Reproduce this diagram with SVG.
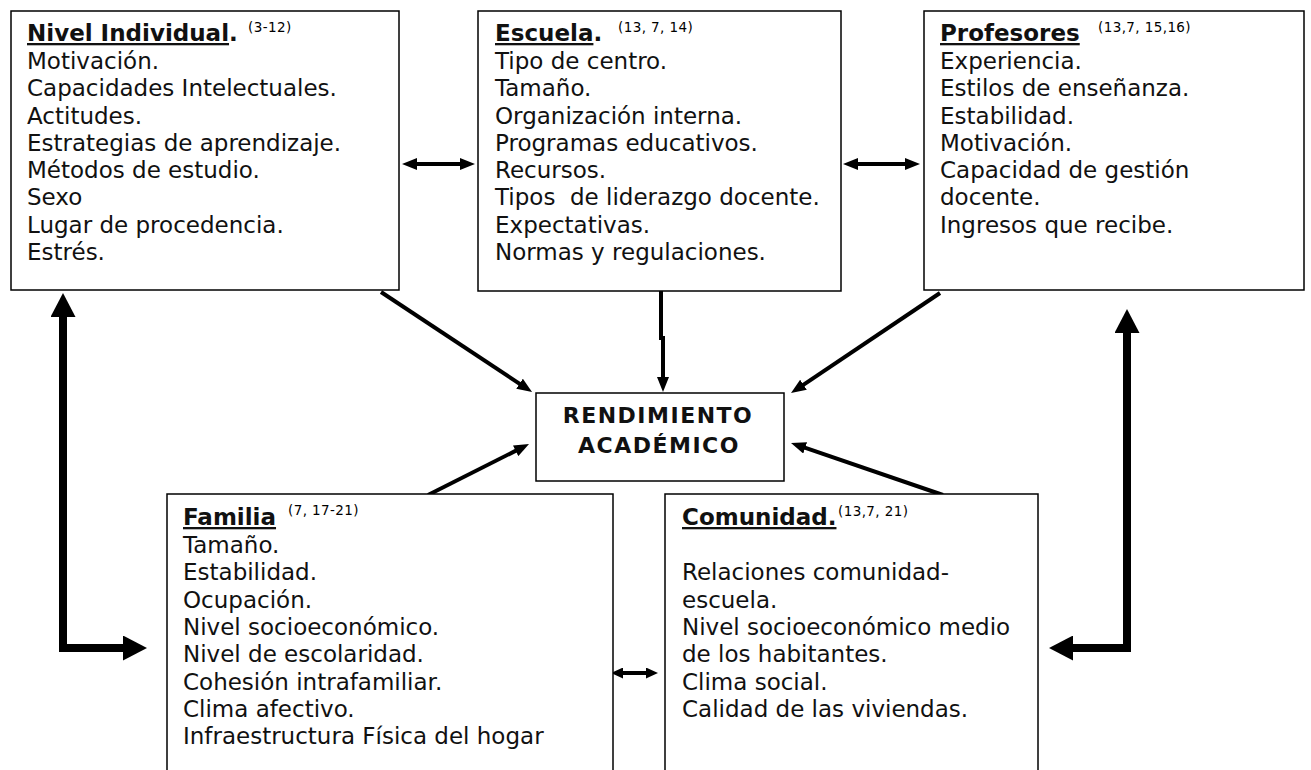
<svg xmlns="http://www.w3.org/2000/svg" width="1311" height="770" viewBox="0 0 1311 770">
<style>
.box{fill:#fff;stroke:#000;stroke-width:1.5}
.t{font-family:"DejaVu Sans","Verdana",sans-serif;font-size:23px;fill:#111}
.h{font-family:"DejaVu Sans","Verdana",sans-serif;font-size:23px;font-weight:bold;fill:#111}
.u{text-decoration:underline}
.s{font-family:"DejaVu Sans","Verdana",sans-serif;font-size:13.5px;letter-spacing:0.4px;fill:#000}
.c{font-family:"DejaVu Sans","Verdana",sans-serif;font-size:22px;font-weight:bold;letter-spacing:1.5px;fill:#111;text-anchor:middle}
.ln{fill:none;stroke:#000;stroke-width:4}
.lnb{fill:none;stroke:#000;stroke-width:8;stroke-linejoin:miter}
</style>
<defs>
<marker id="ah" viewBox="0 0 15 12" refX="2" refY="6" markerWidth="15" markerHeight="12" markerUnits="userSpaceOnUse" orient="auto-start-reverse"><path d="M0,0 L15,6 L0,12 z" fill="#000"/></marker>
<marker id="as" viewBox="0 0 12 11" refX="2" refY="5.5" markerWidth="12" markerHeight="11" markerUnits="userSpaceOnUse" orient="auto-start-reverse"><path d="M0,0 L12,5.5 L0,11 z" fill="#000"/></marker>
<marker id="ab" viewBox="0 0 24 25" refX="1" refY="12.5" markerWidth="24" markerHeight="25" markerUnits="userSpaceOnUse" orient="auto-start-reverse"><path d="M0,0 L24,12.5 L0,25 z" fill="#000"/></marker>
</defs>

<g id="connectors">
<line class="ln" x1="415" y1="164" x2="462" y2="164" marker-start="url(#ah)" marker-end="url(#ah)"/>
<line class="ln" x1="856" y1="164" x2="907" y2="164" marker-start="url(#ah)" marker-end="url(#ah)"/>
<line class="ln" x1="381" y1="292" x2="521.2" y2="384.8" marker-end="url(#ah)"/>
<path class="ln" d="M661,291 V338 H663 V379" marker-end="url(#ah)"/>
<line class="ln" x1="940" y1="293" x2="801.8" y2="385.8" marker-end="url(#ah)"/>
<line class="ln" x1="428" y1="495" x2="517.4" y2="449.9" marker-end="url(#ah)"/>
<line class="ln" x1="943" y1="495" x2="803.3" y2="447.2" marker-end="url(#ah)"/>
<line class="ln" x1="621" y1="673" x2="648" y2="673" marker-start="url(#as)" marker-end="url(#as)"/>
<path class="lnb" d="M63,316 V648 H124" marker-start="url(#ab)" marker-end="url(#ab)"/>
<path class="lnb" d="M1127,332 V648 H1072" marker-start="url(#ab)" marker-end="url(#ab)"/>
</g>

<g id="nivel-individual">
<rect class="box" x="11" y="11" width="388" height="279"/>
<text class="h" x="27" y="41"><tspan class="u">Nivel Individual</tspan>.</text>
<text class="s" x="248" y="32">(3-12)</text>
<text class="t" x="27" y="69">Motivación.</text>
<text class="t" x="27" y="96.25">Capacidades Intelectuales.</text>
<text class="t" x="27" y="123.5">Actitudes.</text>
<text class="t" x="27" y="150.75">Estrategias de aprendizaje.</text>
<text class="t" x="27" y="178">Métodos de estudio.</text>
<text class="t" x="27" y="205.25">Sexo</text>
<text class="t" x="27" y="232.5">Lugar de procedencia.</text>
<text class="t" x="27" y="259.75">Estrés.</text>
</g>

<g id="escuela">
<rect class="box" x="478" y="11" width="363" height="280"/>
<text class="h" x="495" y="41"><tspan class="u">Escuela</tspan>.</text>
<text class="s" x="618" y="32">(13, 7, 14)</text>
<text class="t" x="495" y="69">Tipo de centro.</text>
<text class="t" x="495" y="96.25">Tamaño.</text>
<text class="t" x="495" y="123.5">Organización interna.</text>
<text class="t" x="495" y="150.75">Programas educativos.</text>
<text class="t" x="495" y="178">Recursos.</text>
<text class="t" x="495" y="205.25" xml:space="preserve">Tipos  de liderazgo docente.</text>
<text class="t" x="495" y="232.5">Expectativas.</text>
<text class="t" x="495" y="259.75">Normas y regulaciones.</text>
</g>

<g id="profesores">
<rect class="box" x="924" y="11" width="380" height="279"/>
<text class="h" x="940" y="41"><tspan class="u">Profesores</tspan></text>
<text class="s" x="1098" y="32">(13,7, 15,16)</text>
<text class="t" x="940" y="69">Experiencia.</text>
<text class="t" x="940" y="96.25">Estilos de enseñanza.</text>
<text class="t" x="940" y="123.5">Estabilidad.</text>
<text class="t" x="940" y="150.75">Motivación.</text>
<text class="t" x="940" y="178">Capacidad de gestión</text>
<text class="t" x="940" y="205.25">docente.</text>
<text class="t" x="940" y="232.5">Ingresos que recibe.</text>
</g>

<g id="rendimiento">
<rect class="box" x="536" y="393" width="248" height="88"/>
<text class="c" x="658" y="423">RENDIMIENTO</text>
<text class="c" x="659" y="453">ACADÉMICO</text>
</g>

<g id="familia">
<rect class="box" x="167" y="494" width="446" height="300"/>
<text class="h" x="183" y="525"><tspan class="u">Familia</tspan></text>
<text class="s" x="288" y="515">(7, 17-21)</text>
<text class="t" x="183" y="553">Tamaño.</text>
<text class="t" x="183" y="580.3">Estabilidad.</text>
<text class="t" x="183" y="607.6">Ocupación.</text>
<text class="t" x="183" y="634.9">Nivel socioeconómico.</text>
<text class="t" x="183" y="662.2">Nivel de escolaridad.</text>
<text class="t" x="183" y="689.5">Cohesión intrafamiliar.</text>
<text class="t" x="183" y="716.8">Clima afectivo.</text>
<text class="t" x="183" y="744.1">Infraestructura Física del hogar</text>
</g>

<g id="comunidad">
<rect class="box" x="665" y="494" width="373" height="300"/>
<text class="h" x="682" y="525"><tspan class="u">Comunidad.</tspan></text>
<text class="s" x="838" y="516">(13,7, 21)</text>
<text class="t" x="682" y="580.3">Relaciones comunidad-</text>
<text class="t" x="682" y="607.6">escuela.</text>
<text class="t" x="682" y="634.9">Nivel socioeconómico medio</text>
<text class="t" x="682" y="662.2">de los habitantes.</text>
<text class="t" x="682" y="689.5">Clima social.</text>
<text class="t" x="682" y="716.8">Calidad de las viviendas.</text>
</g>
</svg>
